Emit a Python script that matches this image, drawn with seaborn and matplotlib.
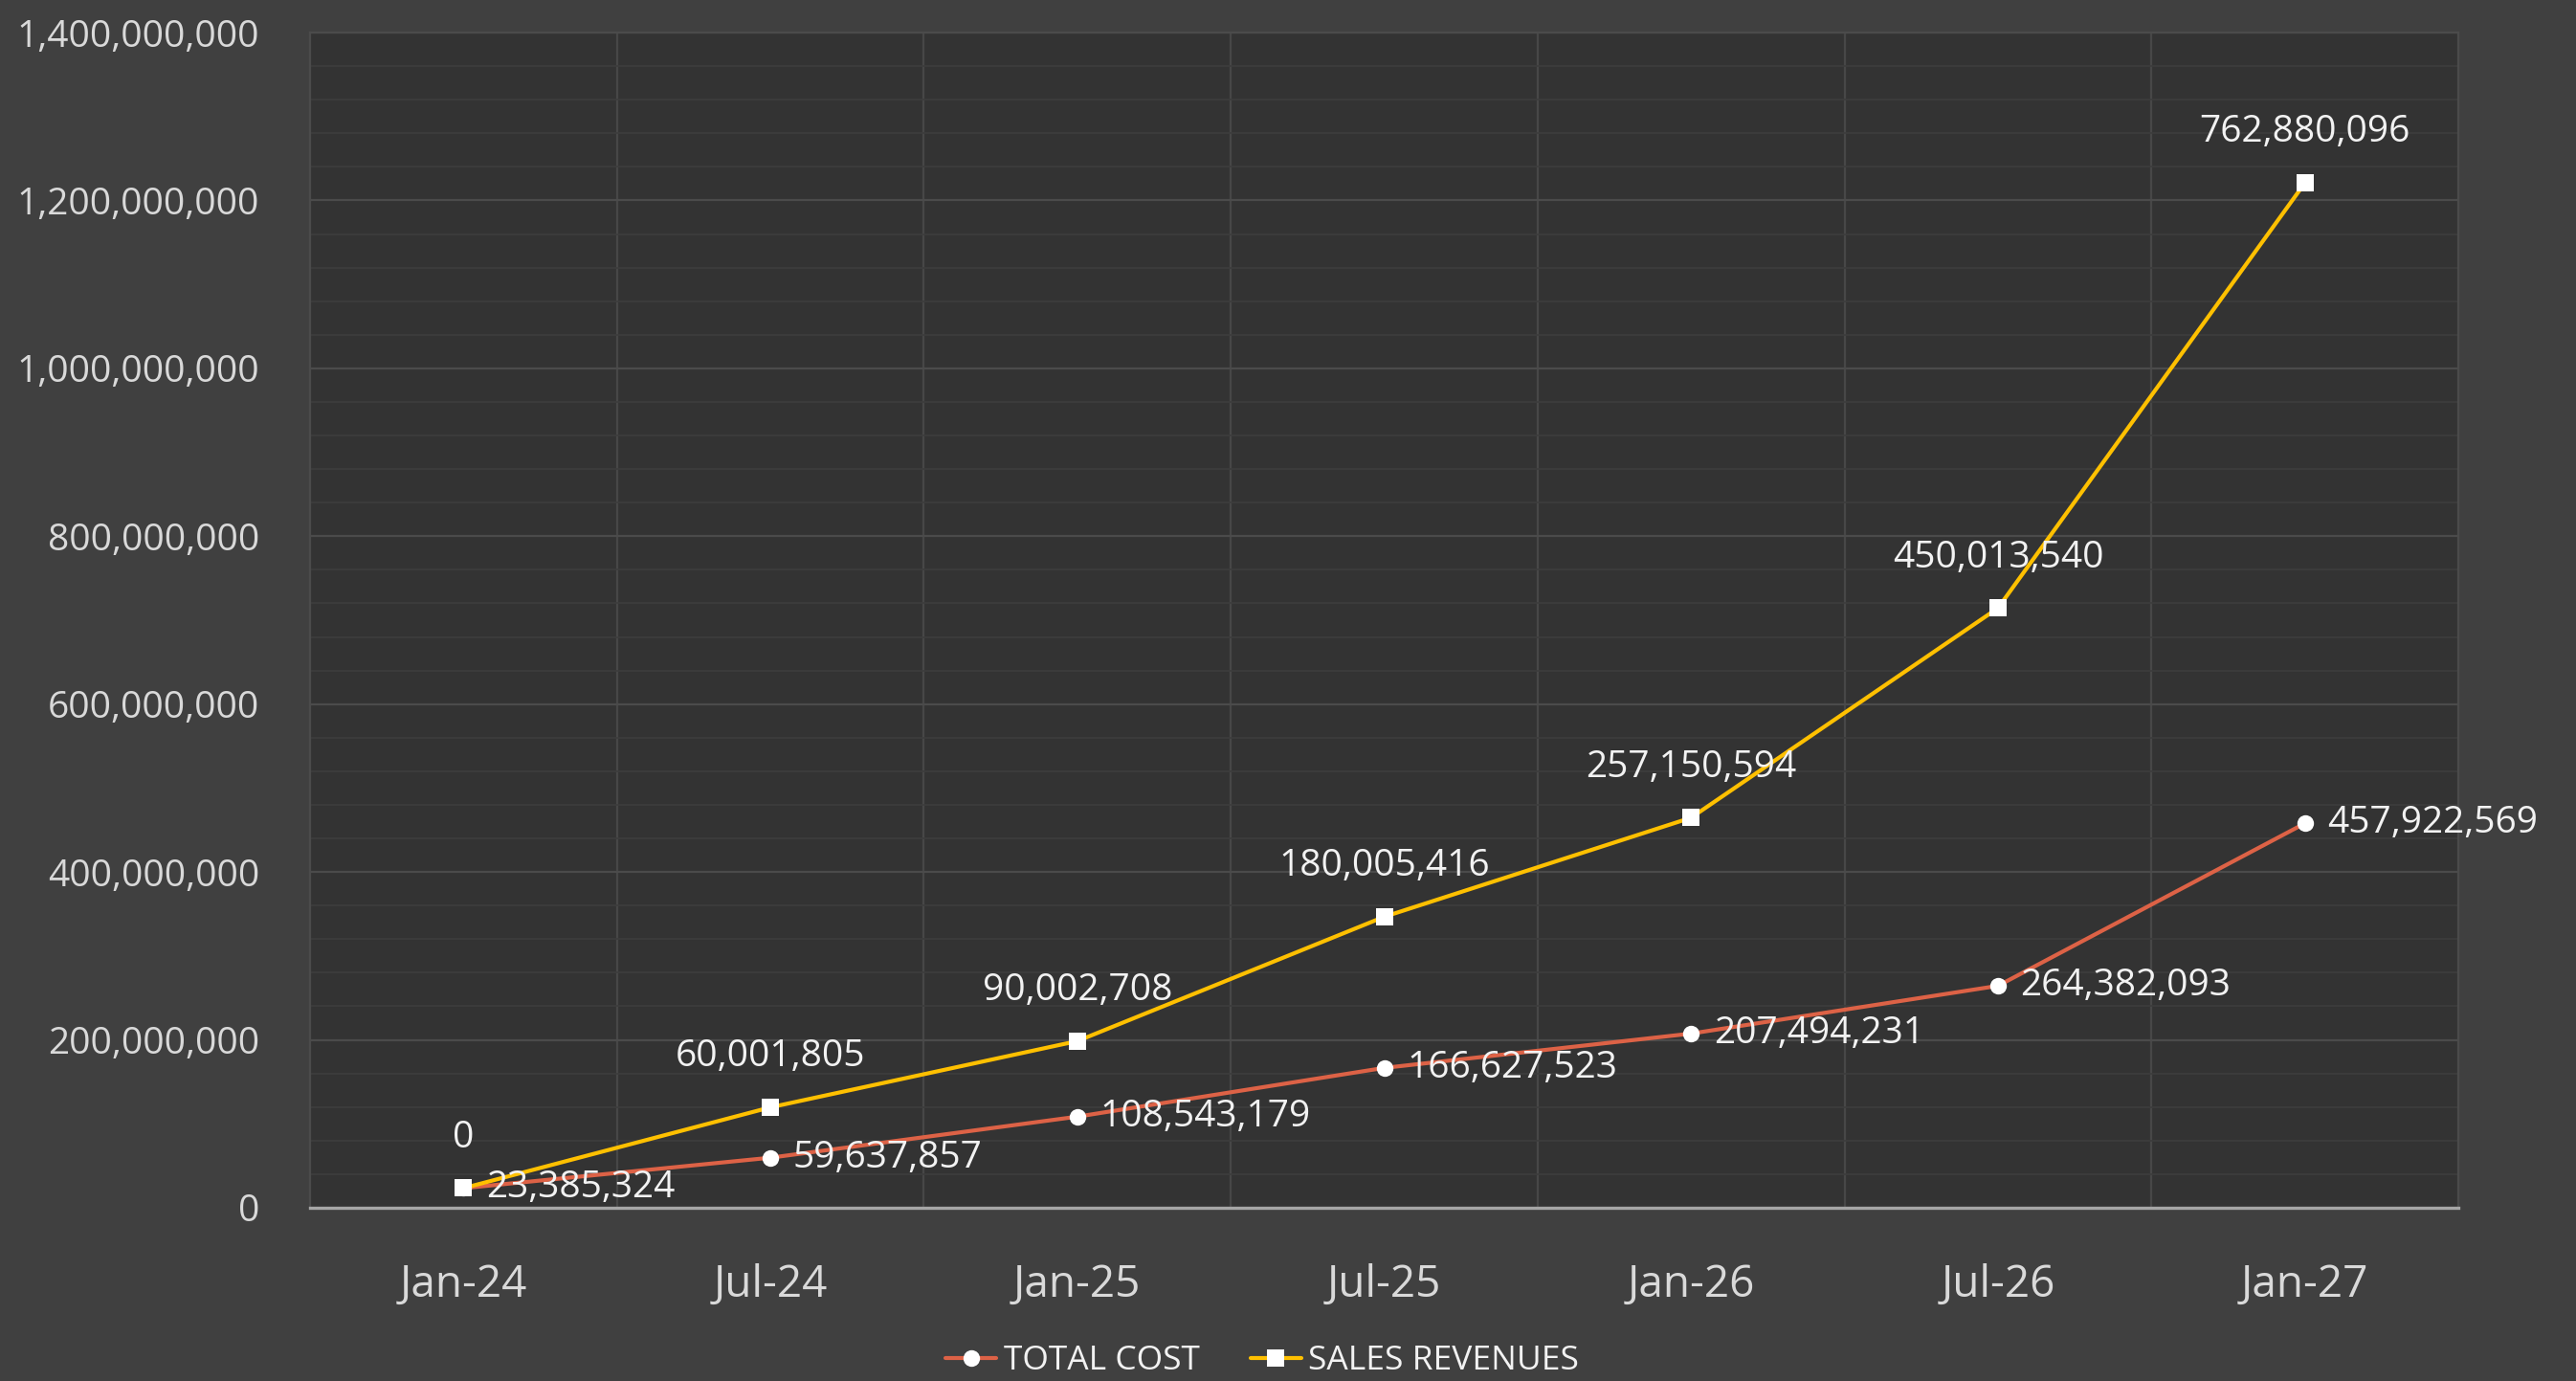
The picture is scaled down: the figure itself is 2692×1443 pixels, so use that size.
import matplotlib
matplotlib.use("Agg")
import matplotlib.pyplot as plt
from matplotlib.ticker import FuncFormatter, MultipleLocator, FixedLocator
import numpy as np
import pandas as pd
import seaborn as sns

# Half-yearly periods
periods = ["Jan-24", "Jul-24", "Jan-25", "Jul-25", "Jan-26", "Jul-26", "Jan-27"]

# Series values
total_cost = [23385324, 59637857, 108543179, 166627523, 207494231, 264382093, 457922569]
sales_revenues = [0, 60001805, 90002708, 180005416, 257150594, 450013540, 762880096]

# Stacked line chart: revenues are drawn on top of costs
pos = np.arange(len(periods))
cost_arr = np.array(total_cost, dtype=float)
sales_top = cost_arr + np.array(sales_revenues, dtype=float)

df = pd.DataFrame({"pos": pos, "cost": cost_arr, "sales_top": sales_top})

sns.set_theme(style="dark")
plt.rcParams["font.family"] = ["Open Sans", "DejaVu Sans"]

OUTER = "#404040"
INNER = "#333333"
TICK_COL = "#d9d9d9"
LABEL_COL = "#f2f2f2"
COST_COL = "#dd6246"
SALES_COL = "#ffc000"

fig = plt.figure(figsize=(26.92, 14.43), dpi=100, facecolor=OUTER)
W, H = 2692, 1443
left, right, top, bottom = 324, 2569, 34, 1262
ax = fig.add_axes([left / W, 1 - bottom / H, (right - left) / W, (bottom - top) / H])
ax.set_facecolor(INNER)

sns.lineplot(data=df, x="pos", y="cost", ax=ax, color=COST_COL, linewidth=3.0,
             marker="o", markersize=12.5, markerfacecolor="white",
             markeredgecolor="white", markeredgewidth=0, label="TOTAL COST", zorder=4)
sns.lineplot(data=df, x="pos", y="sales_top", ax=ax, color=SALES_COL, linewidth=3.0,
             marker="s", markersize=12.5, markerfacecolor="white",
             markeredgecolor="white", markeredgewidth=0, label="SALES REVENUES", zorder=5)

ax.set_xlim(-0.5, len(periods) - 0.5)
ax.set_ylim(0, 1.4e9)

# Grid
ax.yaxis.set_major_locator(MultipleLocator(2e8))
ax.yaxis.set_minor_locator(MultipleLocator(4e7))
ax.xaxis.set_major_locator(FixedLocator(pos))
ax.xaxis.set_minor_locator(FixedLocator(pos[:-1] + 0.5))
ax.grid(False)
ax.grid(which="major", axis="y", color="#4b4b4b", linewidth=1.6)
ax.grid(which="minor", axis="y", color="#3d3d3d", linewidth=1.2)
ax.grid(which="minor", axis="x", color="#474747", linewidth=1.6)
ax.set_axisbelow(True)

ax.set_xticks(pos)
ax.set_xticklabels(periods)
ax.yaxis.set_major_formatter(FuncFormatter(lambda v, _: f"{v:,.0f}"))
ax.tick_params(axis="both", which="both", length=0, labelcolor=TICK_COL)
ax.tick_params(axis="y", pad=38, labelsize=28)
ax.tick_params(axis="x", pad=42, labelsize=33)
ax.set_xlabel("")
ax.set_ylabel("")

for side in ["top", "left", "right"]:
    ax.spines[side].set_visible(True)
    ax.spines[side].set_color("#4b4b4b")
    ax.spines[side].set_linewidth(1.6)
ax.spines["bottom"].set_color("#a6a6a6")
ax.spines["bottom"].set_linewidth(2.4)

# Data labels
for i in range(len(periods)):
    ax.annotate(f"{total_cost[i]:,.0f}", (pos[i], cost_arr[i]), xytext=(17, 0),
                textcoords="offset points", ha="left", va="center",
                fontsize=28, color=LABEL_COL, zorder=6)
    ax.annotate(f"{sales_revenues[i]:,.0f}", (pos[i], sales_top[i]), xytext=(0, 38),
                textcoords="offset points", ha="center", va="center",
                fontsize=28, color=LABEL_COL, zorder=6)

handles, labels = ax.get_legend_handles_labels()
ax.legend(handles, labels, loc="center", bbox_to_anchor=(1319 / W, 21 / H),
          bbox_transform=fig.transFigure, ncol=2, frameon=False, fontsize=25.5,
          labelcolor=LABEL_COL, handlelength=1.5, handletextpad=0.2,
          columnspacing=1.5)

fig.savefig("out.png", dpi=100, facecolor=OUTER)
